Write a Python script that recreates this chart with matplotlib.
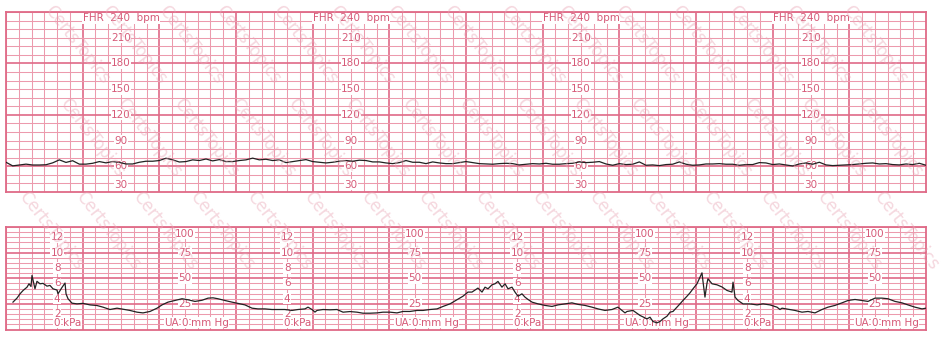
import numpy as np
import matplotlib
matplotlib.use('Agg')
import matplotlib.pyplot as plt

# ---------------- data ----------------
# FHR trace (bpm), sampled evenly across the 12-minute strip
fhr_bpm = [
    64.7, 60.5, 61.5, 62.5, 61.5, 61.5, 61.8, 64, 67.5, 64.5, 66.5, 62.5, 62.5, 63.5, 65.5, 64,
    65.5, 64.5, 62.7, 62.7, 64.7, 65.9, 65.9, 66.7, 69.4, 67.5, 65, 65.5, 67.5, 66.7, 68.5, 66.3,
    67.8, 65.5, 65.5, 66.7, 67.5, 69.5, 67.5, 68.2, 66.7, 67.5, 64.3, 65.5, 66.7, 67.8, 65.5,
    64.7, 63.9, 64.7, 65.9, 66.7, 65.9, 67.1, 66.7, 65.1, 65.1, 63.9, 63.1, 64.3, 66.7, 64.7, 64.7,
    63.1, 65.1, 63.9, 63.1, 63.1, 64.3, 65.5, 64.3, 63.1, 62.7, 62.4, 63.1, 63.5, 63.1, 61.6, 62.4,
    63.1, 62.7, 63.5, 62.4, 62.4, 63.1, 63.5, 65.1, 64.3, 64.7, 65.5, 62.7, 61.2, 63.1, 62, 62.4,
    65.1, 61.2,
    61.6, 60.8, 62, 62.4, 65.1, 62.4, 61.2, 61.6, 62.7, 62.7, 63.1, 62.4, 62.4, 61.2, 62, 62,
    64.3, 63.9, 62, 62.7, 61.6, 60.4, 62.7, 63.9, 62.4, 64.7, 61.6, 60.8, 61.2, 61.6, 62, 62.7,
    63.5, 63.9, 62.7, 63.1, 62, 61.6, 62.7, 62, 63.5, 61.2,
]

# UA trace: time (minutes) and pressure (mmHg)
ua_t = [
    0.091, 0.143, 0.183, 0.222, 0.274, 0.300, 0.326, 0.339, 0.359, 0.378, 0.404, 0.443, 0.483,
    0.535, 0.574, 0.613, 0.665, 0.678, 0.704, 0.730, 0.770, 0.783, 0.809, 0.861, 0.926, 1.004,
    1.096, 1.187, 1.265, 1.356, 1.448, 1.526, 1.617, 1.709, 1.787, 1.878, 1.970, 2.035, 2.113,
    2.204, 2.296, 2.374, 2.465, 2.556, 2.635, 2.700, 2.765, 2.856, 2.948, 3.026, 3.117, 3.209,
    3.287, 3.378, 3.469, 3.548, 3.639, 3.730, 3.809, 3.900, 3.939, 3.991, 4.030, 4.056, 4.135,
    4.226, 4.317, 4.396, 4.487, 4.578, 4.656, 4.748, 4.839, 4.917, 5.009, 5.100, 5.178, 5.269,
    5.361, 5.439, 5.530, 5.622, 5.700, 5.791, 5.883, 5.961, 6.026, 6.078, 6.156, 6.209, 6.248,
    6.287, 6.339, 6.378, 6.417, 6.469, 6.509, 6.548, 6.600, 6.639, 6.678, 6.730, 6.769, 6.809,
    6.861, 6.939, 7.030, 7.121, 7.200, 7.291, 7.382, 7.461, 7.552, 7.643, 7.722, 7.813, 7.904,
    7.982, 8.035, 8.074, 8.100, 8.178, 8.270, 8.361, 8.400, 8.439, 8.491, 8.530, 8.570, 8.622,
    8.661, 8.700, 8.752, 8.791, 8.830, 8.883, 8.922, 8.961, 9.013, 9.052, 9.078, 9.091, 9.117,
    9.143, 9.156, 9.209, 9.274, 9.339, 9.404, 9.469, 9.483, 9.509, 9.548, 9.613, 9.704, 9.796,
    9.874, 9.965, 10.056, 10.096, 10.122, 10.200, 10.291, 10.383, 10.461, 10.552, 10.643, 10.722,
    10.813, 10.904, 10.983, 11.074, 11.165, 11.243, 11.335, 11.426, 11.504, 11.596, 11.687,
    11.765, 11.856, 11.948, 12.0,
]
ua_mmhg = [
    26.7, 30.6, 34.8, 38, 41.3, 44.6, 42, 52.8, 46, 39.7, 47, 44.6, 45,
    42.3, 43, 39.7, 38.5, 34.8, 38, 41, 45.3, 34.8, 30, 25.7, 25, 25.5,
    24, 23.4, 21.8, 19.5, 20.8, 19.8, 18.6, 16.9, 16.2, 17.6, 20.8, 24, 26.7,
    28.3, 30, 29, 27.4, 28.5, 30.6, 30.9, 30, 28.3, 26.7, 25.5, 24, 20.8,
    20.1, 20.1, 19.5, 19.5, 19.5, 18.6, 19.5, 20.1, 21.8, 19.5, 17, 18.6, 19.5,
    19.2, 19.5, 16.9, 17.5, 16.9, 15.9, 15.9, 16.2, 16.9, 16.9, 16.2, 17.6, 17.6,
    18.6, 18.6, 19.5, 20.1, 22.5, 25, 29, 32.5, 36.5, 36.5, 40.4, 36.5, 41.3,
    39.7, 43.6, 44.6, 46.9, 41.3, 44.6, 39.7, 41.3, 36.5, 32.5, 34.8, 31.6, 29.3,
    26.7, 25, 23.5, 22.5, 24, 25, 26, 24.5, 23.5, 21.8, 20.1, 18.6, 19.5,
    21.8, 18.6, 16.2, 17.6, 18.6, 13.7, 10.4, 12, 7.8, 6.5, 7.8, 10.4, 13,
    16.9, 17.6, 21.8, 25, 28.3, 32.5, 35.8, 39.7, 44.6, 51.1, 55.3, 47, 31.6,
    45, 49.5, 44.6, 43.6, 41.5, 38.1, 36.5, 46.2, 31.6, 28.3, 25, 25, 24,
    25, 24, 21.8, 19.5, 20.8, 19.8, 18.6, 16.9, 17.6, 16.2, 19.5, 21.8,
    23.5, 26, 28.3, 29.3, 28.3, 27.4, 30.6, 30.6, 30, 27.4, 26,
    24, 21.8, 20.1, 20.8,
]

fhr_tick_labels = [210, 180, 150, 120, 90, 60]
kpa_tick_labels = [12, 10, 8, 6, 4, 2]
mmhg_tick_labels = [75, 50, 25]
KPA_TO_MMHG = 7.5
watermark_text = 'CertsTopics'

# ---------------- styling ----------------
W, H = 946, 346
major_c = '#df6a87'
minor_c = '#ec9aad'
text_c = '#d65a78'
fs = 7.5
box = dict(facecolor='white', edgecolor='none', pad=0.4)

fig = plt.figure(figsize=(W / 100, H / 100), dpi=100)
fig.patch.set_facecolor('white')
ax1 = fig.add_axes([6 / W, (H - 192) / H, 920 / W, 180 / H])
ax2 = fig.add_axes([6 / W, (H - 329.5) / H, 920 / W, 102.5 / H])


def style(ax, ymin, ymax, ymaj, ymin_step):
    ax.set_xlim(0, 12)
    ax.set_ylim(ymin, ymax)
    ax.set_xticks(np.arange(1, 12, 1))
    ax.set_xticks(np.arange(0, 12.01, 1 / 6), minor=True)
    ax.set_yticks(ymaj)
    ax.set_yticks(np.arange(ymin, ymax + 0.1, ymin_step), minor=True)
    ax.grid(which='minor', color=minor_c, lw=0.75, zorder=0)
    ax.grid(which='major', color=major_c, lw=1.2, zorder=0.5)
    ax.set_axisbelow(True)
    ax.tick_params(which='both', length=0, labelbottom=False, labelleft=False)
    for s in ax.spines.values():
        s.set_color(major_c)
        s.set_linewidth(1.3)


style(ax1, 30, 240, [60, 120, 180], 10)
style(ax2, 0, 100, [25, 50, 75], 5)

# traces
fhr_t = np.linspace(0, 12, len(fhr_bpm))
ax1.plot(fhr_t, fhr_bpm, color='#222222', lw=0.9, zorder=3)
ax2.plot(ua_t, ua_mmhg, color='#222222', lw=0.9, zorder=3)

# FHR scale labels
for k in range(4):
    cx = 1.5 + 3 * k
    ax1.text(cx, 238.3, 'FHR  240  bpm', ha='center', va='top', fontsize=fs,
             color=text_c, bbox=box, zorder=2)
    for v in fhr_tick_labels:
        ax1.text(cx, v, str(v), ha='center', va='center', fontsize=fs,
                 color=text_c, bbox=box, zorder=2)
    ax1.text(cx, 32.5, '30', ha='center', va='bottom', fontsize=fs,
             color=text_c, bbox=box, zorder=2)

# UA scale labels
for k in range(4):
    kx = 2 / 3 + 3 * k
    for v in kpa_tick_labels:
        ax2.text(kx, v * KPA_TO_MMHG, str(v), ha='center', va='center', fontsize=fs,
                 color=text_c, bbox=box, zorder=2)
    ax2.text(kx, 1.8, '0', ha='center', va='bottom', fontsize=fs,
             color=text_c, bbox=box, zorder=2)
    ax2.text(kx + 0.08, 1.8, 'kPa', ha='left', va='bottom', fontsize=fs,
             color=text_c, bbox=box, zorder=2)

    mx = 7 / 3 + 3 * k
    ax2.text(mx, 98.3, '100', ha='center', va='top', fontsize=fs,
             color=text_c, bbox=box, zorder=2)
    for v in mmhg_tick_labels:
        ax2.text(mx, v, str(v), ha='center', va='center', fontsize=fs,
                 color=text_c, bbox=box, zorder=2)
    ax2.text(mx, 1.8, '0', ha='center', va='bottom', fontsize=fs,
             color=text_c, bbox=box, zorder=2)
    ax2.text(mx - 0.08, 1.8, 'UA', ha='right', va='bottom', fontsize=fs,
             color=text_c, bbox=box, zorder=2)
    ax2.text(mx + 0.08, 1.8, 'mm Hg', ha='left', va='bottom', fontsize=fs,
             color=text_c, bbox=box, zorder=2)

# watermark: tiled diagonal text, only complete copies kept inside the figure
ang = np.deg2rad(52)
period = 118.0
renderer = fig.canvas.get_renderer()
for i in range(-25, 35):
    for j in range(-8, 12):
        cx = 20 + i * 57 + j * period * np.cos(ang)
        cy = H - 45 - j * period * np.sin(ang)
        if not (-60 < cx < W + 60 and -60 < cy < H + 60):
            continue
        t = fig.text(cx / W, cy / H, watermark_text, rotation=-52,
                     rotation_mode='anchor', ha='center', va='center',
                     fontsize=12, color='#e9a6b6', alpha=0.45, zorder=10)
        bb = t.get_window_extent(renderer)
        if bb.x0 < 1 or bb.y0 < 1 or bb.x1 > W - 1 or bb.y1 > H - 1:
            t.remove()

fig.savefig('out.png', dpi=100, facecolor='white')
